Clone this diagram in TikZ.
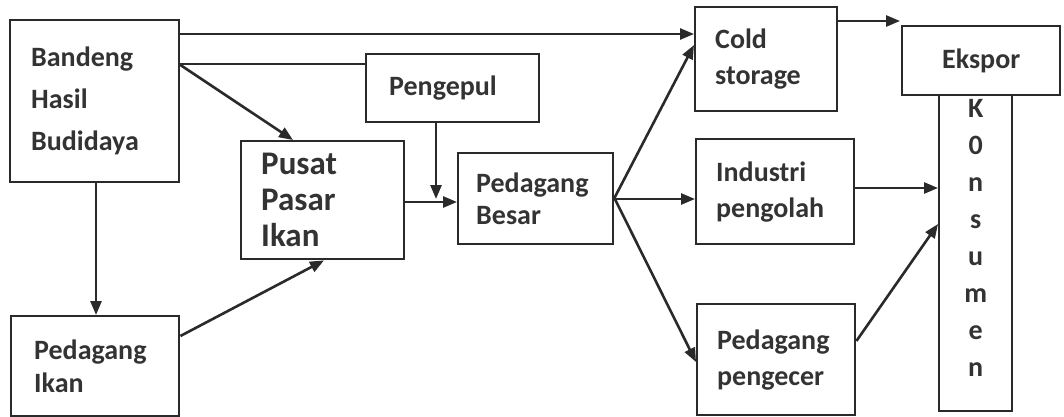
\documentclass[tikz,border=0pt]{standalone}
\usepackage{fontspec}
\setmainfont{Carlito}
\usetikzlibrary{arrows.meta}
\definecolor{ink}{HTML}{2A2A2A}
\definecolor{txt}{HTML}{333333}
\tikzset{
  box/.style={draw=ink, line width=1.2pt, anchor=north west, inner xsep=0pt, inner ysep=0pt, align=left, text=txt},
  arr/.style={draw=ink, line width=1.3pt, -{Triangle[length=7pt,width=5.5pt]}},
  ln/.style={draw=ink, line width=1.3pt},
  fa/.style={font=\bfseries\fontsize{14}{#1}\selectfont},
}
\begin{document}
\begin{tikzpicture}[x=0.5pt,y=-0.5pt]
\useasboundingbox (0,0) rectangle (1064,417);
% boxes
\node[box, fa=21, minimum width=84.5pt, minimum height=81pt, text width=63.5pt] (band) at (9,19) {Bandeng\\Hasil\\Budidaya};
\node[box, fa=16.5, minimum width=84pt, minimum height=50pt, text width=61pt] (ikan) at (10,315) {Pedagang\\Ikan};
\node[box, font=\bfseries\fontsize{16.5}{18}\selectfont, minimum width=81.5pt, minimum height=59pt, text width=61.5pt] (pusat) at (240,140) {Pusat\\Pasar\\Ikan};
\node[box, fa=17, minimum width=86.5pt, minimum height=34pt, text width=63.5pt] (peng) at (365,53) {Pengepul};
\node[box, fa=16, minimum width=77.5pt, minimum height=45.5pt, text width=59.5pt] (besar) at (457,152) {Pedagang\\Besar};
\node[box, fa=18, minimum width=71pt, minimum height=52pt, text width=51pt] (cold) at (694,6) {Cold\\storage};
\node[box, fa=18, minimum width=79pt, minimum height=52.5pt, text width=59pt] (indus) at (695,138) {Industri\\pengolah};
\node[box, fa=18, minimum width=79pt, minimum height=55.5pt, text width=59pt] (ecer) at (696,303) {Pedagang\\pengecer};
\node[box, fa=17, align=center, minimum width=79pt, minimum height=34.5pt, text width=70pt] (ekspor) at (901,25) {Ekspor};
\node[box, inner ysep=2pt, minimum width=36.5pt, minimum height=158pt] (kons) at (938,94)
  {\parbox[c][154pt][t]{30pt}{\centering\bfseries\fontsize{14}{18.5}\selectfont K\\0\\n\\s\\u\\m\\e\\n}};
% free points
\coordinate (ekspin) at (900,21);
\coordinate (pj) at (436,199);
% connectors
\draw[arr] (band.east |- 0,34) -- (cold.west |- 0,34);
\draw[ln] (band.east |- 0,64) -- (peng.west |- 0,64);
\draw[arr] (band.east |- 0,65) -- (pusat.north -| 293,0);
\draw[arr] (band.south -| 96,0) -- (ikan.north -| 96,0);
\draw[arr] (ikan.east |- 0,336) -- (pusat.south -| 324,0);
\draw[arr] (peng.south -| pj) -- (pj);
\draw[arr] (pusat.east |- 0,202) -- (besar.west |- 0,202);
\draw[arr] (besar.east |- 0,198) -- (cold.west |- 0,45);
\draw[arr] (besar.east |- 0,199) -- (indus.west |- 0,199);
\draw[arr] (besar.east |- 0,198) -- (ecer.west |- 0,362);
\draw[arr] (cold.east |- ekspin) -- (ekspin);
\draw[arr] (indus.east |- 0,188) -- (kons.west |- 0,188);
\draw[arr] (ecer.east |- 0,341) -- (kons.west |- 0,224);
\end{tikzpicture}
\end{document}
